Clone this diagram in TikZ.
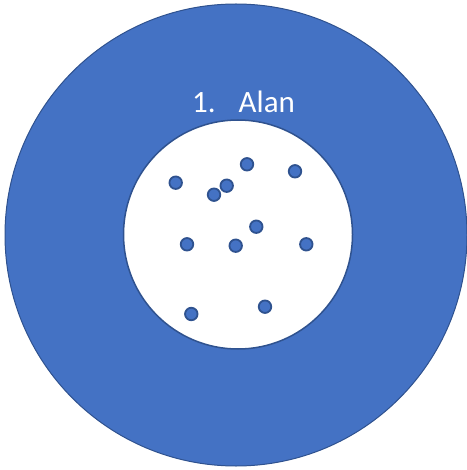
\documentclass[tikz,border=0pt]{standalone}
\usepackage{fontspec}
\setmainfont{Carlito}
\usepackage{tikz}
\definecolor{OfficeBlue}{HTML}{4472C4}
\definecolor{EdgeBlue}{HTML}{2F528F}
\tikzset{
  ringnode/.style={
    circle,draw=EdgeBlue,fill=OfficeBlue,line width=1pt,
    minimum size=462pt,inner sep=0pt
  },
  holenode/.style={
    circle,draw=EdgeBlue,fill=white,line width=1.5pt,
    minimum size=229pt,inner sep=0pt
  },
  dotnode/.style={
    circle,draw=EdgeBlue,fill=OfficeBlue,line width=1.8pt,
    minimum size=12.5pt,inner sep=0pt
  },
  namenode/.style={
    font=\fontsize{31}{36}\selectfont,text=white,anchor=base west,inner sep=0pt
  },
}
\begin{document}
\begin{tikzpicture}[x=1pt,y=-1pt]
  \useasboundingbox (0,0) rectangle (466,470);
  \node[ringnode] (outer) at (236,235) {};
  \node[holenode] (inner) at (238,234.5) {};
  \node[namenode] (label) at (192,113) {1.\hspace{23pt}Alan};
  \node[dotnode] (d1) at (175.7,182.7) {};
  \node[dotnode] (d2) at (247,164.3) {};
  \node[dotnode] (d3) at (295,171.3) {};
  \node[dotnode] (d4) at (226.7,185.7) {};
  \node[dotnode] (d5) at (214,194.7) {};
  \node[dotnode] (d6) at (256.3,226.7) {};
  \node[dotnode] (d7) at (187,244.3) {};
  \node[dotnode] (d8) at (235.7,245.7) {};
  \node[dotnode] (d9) at (306.3,244.3) {};
  \node[dotnode] (d10) at (265,306.7) {};
  \node[dotnode] (d11) at (191.3,314) {};
\end{tikzpicture}
\end{document}
